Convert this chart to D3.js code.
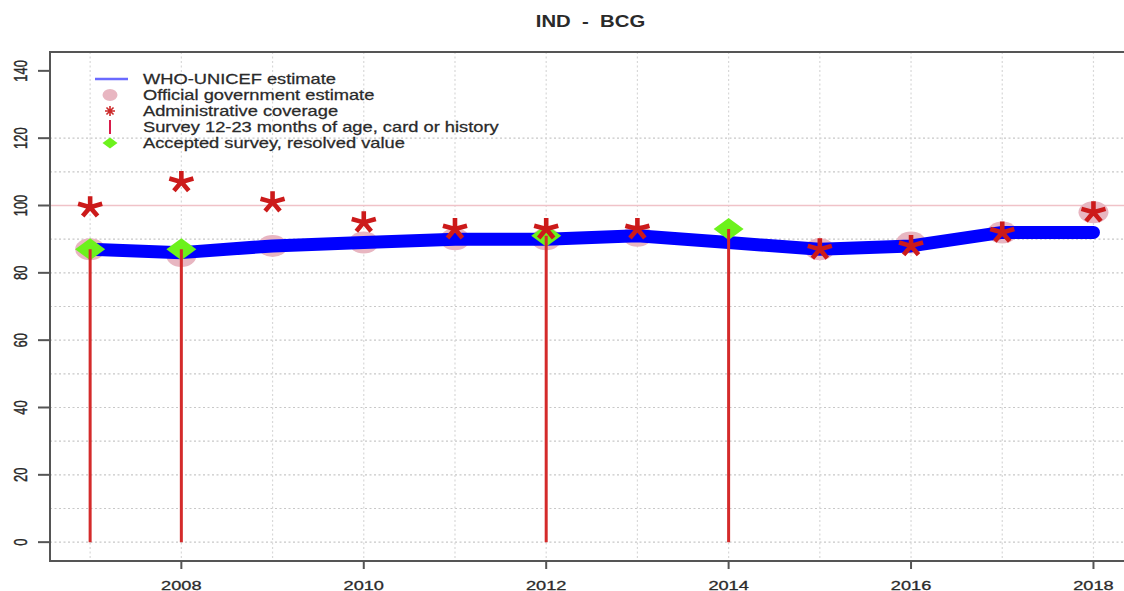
<!DOCTYPE html>
<html><head><meta charset="utf-8">
<script src="https://cdn.jsdelivr.net/npm/d3@7"></script>
<style>body{margin:0;background:#fff}svg{display:block}text{font-family:"Liberation Sans",Arial,sans-serif;fill:#2a2a2a;white-space:pre}</style>
</head><body><svg id="c" width="1124" height="591"></svg>
<script>
const title = "IND  -  BCG";
const years = [2007,2008,2009,2010,2011,2012,2013,2014,2015,2016,2017,2018];
const wuenic = [87,86,88,89,90,90,91,89,87,88,92,92];
const govYears = [2007,2008,2009,2010,2011,2012,2013,2015,2016,2017,2018];
const govValues = [87,85,88,89,90,90,91,87,89,92,98];
const adminYears = [2007,2008,2009,2010,2011,2012,2013,2015,2016,2017,2018];
const adminValues = [99.5,107,101,95,93,93,93,87,88,92,98];
const surveyYears = [2007,2008,2012,2014];
const surveyValues = [87,87,91,93];
const acceptedYears = [2007,2008,2012,2014];
const acceptedValues = [87,87,91,93];
const yTicks = [0,20,40,60,80,100,120,140];
const xTicks = [2008,2010,2012,2014,2016,2018];
const yGrid = [0,10,20,30,40,50,60,70,80,90,110,120];
const legendLabels = ["WHO-UNICEF estimate","Official government estimate","Administrative coverage","Survey 12-23 months of age, card or history","Accepted survey, resolved value"];

const svg = d3.select("#c");
const x = d3.scaleLinear().domain([2006.56, 2018.44]).range([50, 1133.6]);
const y = d3.scaleLinear().domain([-5.6, 145.6]).range([561, 52]);
const L = 50, T = 52, R = 1133.6, B = 561;

svg.append("rect").attr("width",1124).attr("height",591).attr("fill","#fff");

// grid
const g = svg.append("g");
g.selectAll(".hg").data(yGrid).join("line")
  .attr("x1",L).attr("x2",R).attr("y1",d=>y(d)).attr("y2",d=>y(d))
  .attr("stroke","#c8c8c8").attr("stroke-width",1.2).attr("stroke-dasharray","2,2.5");
g.selectAll(".vg").data(years).join("line")
  .attr("x1",d=>x(d)).attr("x2",d=>x(d)).attr("y1",T).attr("y2",B)
  .attr("stroke","#d8d8d8").attr("stroke-width",1.2).attr("stroke-dasharray","2,2.5");
g.append("line").attr("x1",L).attr("x2",R).attr("y1",y(100)).attr("y2",y(100))
  .attr("stroke","#f0c2c8").attr("stroke-width",1.5);

// gov ellipses
svg.selectAll(".gov").data(govYears).join("ellipse")
  .attr("cx",d=>x(d)).attr("cy",(d,i)=>y(govValues[i])).attr("rx",15).attr("ry",11)
  .attr("fill","#e8b6c1");

// wuenic line
svg.append("path").datum(years)
  .attr("d", d3.line().x(d=>x(d)).y((d,i)=>y(wuenic[i])))
  .attr("fill","none").attr("stroke","#0000ff").attr("stroke-width",13)
  .attr("stroke-linecap","round").attr("stroke-linejoin","round");

// accepted diamonds
const diamond = (cx,cy,w,h)=>`M${cx-w},${cy}L${cx},${cy-h}L${cx+w},${cy}L${cx},${cy+h}Z`;
svg.selectAll(".acc").data(acceptedYears).join("path")
  .attr("d",(d,i)=>diamond(x(d),y(acceptedValues[i]),15,11)).attr("fill","#6cf21c");

// survey lines
svg.selectAll(".sv").data(surveyYears).join("line")
  .attr("x1",d=>x(d)).attr("x2",d=>x(d)).attr("y1",y(0)).attr("y2",(d,i)=>y(surveyValues[i]))
  .attr("stroke","#d42a2a").attr("stroke-width",3);

// admin asterisks
function star(cx,cy,len,n,rot,sx){
  let p="";
  for(let k=0;k<n;k++){const a=rot+k*2*Math.PI/n;p+=`M${cx},${cy}L${cx+len*Math.cos(a)*sx},${cy+len*Math.sin(a)}`;}
  return p;
}
svg.selectAll(".adm").data(adminYears).join("path")
  .attr("d",(d,i)=>star(x(d),y(adminValues[i]),11,5,-Math.PI/2,1.15))
  .attr("stroke","#cc1a1a").attr("stroke-width",4.6).attr("fill","none");

// axes frame
svg.append("path").attr("d",`M${R},${T}H${L}V${B}H${R}`).attr("fill","none")
  .attr("stroke","#555").attr("stroke-width",2);
// y ticks
svg.selectAll(".yt").data(yTicks).join("line")
  .attr("x1",38).attr("x2",L).attr("y1",d=>y(d)).attr("y2",d=>y(d)).attr("stroke","#555").attr("stroke-width",2);
svg.selectAll(".yl").data(yTicks).join("text")
  .attr("transform",d=>`translate(27,${y(d)}) scale(1.4,1) rotate(-90)`)
  .attr("text-anchor","middle").attr("font-size",13).attr("stroke","#2a2a2a").attr("stroke-width",0.3).text(d=>d);
// x ticks
svg.selectAll(".xt").data(xTicks).join("line")
  .attr("x1",d=>x(d)).attr("x2",d=>x(d)).attr("y1",B).attr("y2",B+8).attr("stroke","#555").attr("stroke-width",2);
svg.selectAll(".xl").data(xTicks).join("text")
  .attr("transform",d=>`translate(${x(d)},590) scale(1.4,1)`)
  .attr("text-anchor","middle").attr("font-size",13).attr("stroke","#2a2a2a").attr("stroke-width",0.3).text(d=>d);

// title
svg.append("text").attr("transform","translate(590.5,27) scale(1.27,1)")
  .attr("text-anchor","middle").attr("font-size",16).attr("font-weight","bold").attr("fill","#1a1a1a").text(title);

// legend
const lg = svg.append("g");
const ly = [79,95,111,127,143];
lg.append("line").attr("x1",95).attr("x2",128).attr("y1",ly[0]).attr("y2",ly[0]).attr("stroke","#6a6aff").attr("stroke-width",2.5);
lg.append("ellipse").attr("cx",110).attr("cy",ly[1]).attr("rx",7.5).attr("ry",6).attr("fill","#e8b6c1");
lg.append("path").attr("d",star(110,ly[2],5,8,0,1)).attr("stroke","#cc2a2a").attr("stroke-width",1.6);
lg.append("line").attr("x1",110).attr("x2",110).attr("y1",ly[3]-7).attr("y2",ly[3]+7).attr("stroke","#d81b4a").attr("stroke-width",2);
lg.append("path").attr("d",diamond(110,ly[4],7.5,5.5)).attr("fill","#6cf21c");
lg.selectAll("text").data(legendLabels).join("text")
  .attr("transform",(d,i)=>`translate(143,${ly[i]+5}) scale(1.28,1)`)
  .attr("font-size",14.3).attr("stroke","#2a2a2a").attr("stroke-width",0.25).text(d=>d);
</script></body></html>
